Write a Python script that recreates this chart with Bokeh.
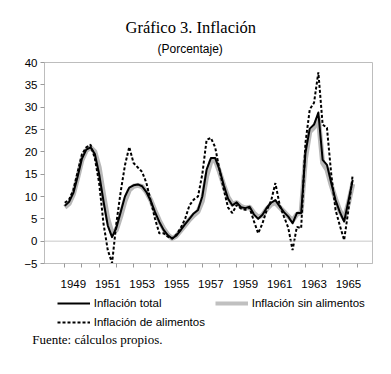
import numpy as np
from bokeh.plotting import figure
from bokeh.layouts import column
from bokeh.models import (Range1d, FixedTicker, Span, Title, Legend, LegendItem,
                          ColumnDataSource)
from bokeh.embed import file_html
from bokeh.resources import INLINE

# ---------------- data (quarterly, 1949Q1 - 1965Q4) ----------------
start_year = 1949
periods_per_year = 4

inflacion_total = [
    7.9, 8.8, 10.8, 14.5, 18.5, 20.5, 21.0, 19.5,      # 1949-1950
    15.0, 9.0, 3.5, 0.9, 3.0, 6.5, 10.0, 12.0,         # 1951-1952
    12.5, 12.7, 12.3, 11.0, 9.0, 6.5, 4.3, 2.5,        # 1953-1954
    1.3, 0.6, 1.3, 2.5, 3.8, 5.0, 6.2, 7.0,            # 1955-1956
    10.0, 16.0, 18.6, 18.6, 16.0, 12.5, 9.5, 8.0,      # 1957-1958
    8.7, 7.6, 7.4, 7.7, 6.0, 5.0, 5.9, 7.5,            # 1959-1960
    8.6, 9.2, 7.8, 6.5, 5.5, 4.0, 6.3, 6.3,            # 1961-1962
    19.8, 25.2, 26.1, 28.8, 18.2, 17.1, 13.0, 9.2,     # 1963-1964
    6.5, 4.4, 9.0, 13.7,                               # 1965
]

inflacion_sin_alimentos = [
    7.6, 8.4, 10.5, 14.2, 18.2, 20.3, 21.0, 20.0,
    16.5, 10.5, 5.0, 1.8, 2.5, 5.5, 9.0, 11.4,
    12.3, 12.5, 12.2, 11.0, 9.2, 6.8, 4.6, 2.8,
    1.4, 0.6, 1.2, 2.4, 3.6, 4.8, 5.8, 6.6,
    9.0, 14.5, 17.8, 18.2, 15.5, 12.5, 9.8, 8.3,
    8.6, 7.8, 7.4, 7.6, 6.3, 5.4, 5.8, 7.2,
    8.2, 8.6, 7.6, 6.6, 5.6, 4.6, 6.0, 6.5,
    18.5, 24.5, 25.5, 27.5, 17.5, 16.0, 12.5, 9.5,
    6.8, 5.0, 8.5, 12.8,
]

inflacion_alimentos = [
    8.6, 9.3, 11.5, 15.5, 19.5, 21.0, 21.6, 18.5,
    13.0, 4.0, -2.0, -4.9, 4.0, 11.0, 17.0, 21.1,
    17.5, 16.5, 15.5, 13.0, 9.0, 5.0, 1.75, 1.75,
    1.0, 0.6, 1.5, 3.0, 5.0, 8.0, 9.3, 10.0,
    15.0, 22.7, 23.1, 21.0, 16.0, 11.5, 7.5, 6.3,
    8.1, 7.3, 7.0, 7.5, 4.5, 1.75, 4.0, 7.0,
    9.0, 13.0, 8.1, 5.5, 3.0, -2.0, 3.2, 2.9,
    22.0, 29.5, 31.0, 37.8, 26.1, 25.4, 15.0, 7.0,
    3.5, 0.25, 7.0, 14.9,
]

year_labels = [1949, 1951, 1953, 1955, 1957, 1959, 1961, 1963, 1965]
year_boundaries = list(range(1949, 1967))
y_ticks = [-5, 0, 5, 10, 15, 20, 25, 30, 35, 40]

title_text = "Gráfico 3. Inflación"
subtitle_text = "(Porcentaje)"
source_text = "Fuente: cálculos propios."
names = ["Inflación total", "Inflación sin alimentos", "Inflación de alimentos"]

t = [start_year + i / periods_per_year for i in range(len(inflacion_total))]
src = ColumnDataSource(dict(t=t, total=inflacion_total,
                            sin=inflacion_sin_alimentos, ali=inflacion_alimentos))

SANS = "Liberation Sans"
SERIF = "Liberation Serif"
styles = {
    "total": dict(line_color="#000000", line_width=2, line_join="round"),
    "sin": dict(line_color="#b8b8b8", line_width=5, line_join="round"),
    "ali": dict(line_color="#000000", line_width=2, line_dash="3 2"),
}

# ---------------- main chart ----------------
p = figure(width=391, height=292, title=None,
           x_range=Range1d(1947.82, 1966.90), y_range=Range1d(-5, 40),
           output_backend="svg", toolbar_location=None,
           min_border_left=44, min_border_right=19,
           min_border_top=62, min_border_bottom=29,
           background_fill_color="white", border_fill_color="white",
           outline_line_color="#bdbdbd", outline_line_width=1)
p.grid.visible = False

xa = p.xaxis[0]
xa.ticker = FixedTicker(ticks=[y + 0.5 for y in year_labels], minor_ticks=year_boundaries)
xa.major_label_overrides = {y + 0.5: str(y) for y in year_labels}
xa.major_tick_out = 0
xa.major_tick_in = 0
xa.minor_tick_out = 4
xa.minor_tick_in = 0
xa.minor_tick_line_color = "#9a9a9a"
xa.axis_line_color = "#bdbdbd"
xa.major_label_standoff = 12
xa.major_label_text_font = SANS
xa.major_label_text_font_size = "11.5px"
xa.major_label_text_color = "#000000"

ya = p.yaxis[0]
ya.ticker = FixedTicker(ticks=y_ticks, minor_ticks=[])
ya.major_tick_out = 4
ya.major_tick_in = 0
ya.major_tick_line_color = "#9a9a9a"
ya.minor_tick_line_color = None
ya.axis_line_color = "#bdbdbd"
ya.major_label_standoff = 3
ya.major_label_text_font = SANS
ya.major_label_text_font_size = "11.5px"
ya.major_label_text_color = "#000000"

p.add_layout(Span(location=0, dimension="width", line_color="#c8c8c8", line_width=1))

p.line("t", "sin", source=src, **styles["sin"])
p.line("t", "total", source=src, **styles["total"])
p.line("t", "ali", source=src, **styles["ali"])

p.add_layout(Title(text=subtitle_text, align="left", offset=113, standoff=10,
                   vertical_align="top", text_font=SANS, text_font_size="12px",
                   text_font_style="normal", text_color="#000000"), "above")
p.add_layout(Title(text=title_text, align="left", offset=81, standoff=0,
                   vertical_align="bottom", text_font=SERIF, text_font_size="16.5px",
                   text_font_style="normal", text_color="#000000"), "above")

# ---------------- legend + source strip ----------------
q = figure(width=391, height=82, title=None,
           x_range=Range1d(0, 1), y_range=Range1d(0, 1),
           x_axis_type=None, y_axis_type=None,
           output_backend="svg", toolbar_location=None,
           min_border_left=44, min_border_right=19, min_border_top=0, min_border_bottom=44,
           background_fill_color="white", border_fill_color="white",
           outline_line_color=None)
q.grid.visible = False

# legend-key renderers only (no visible data of their own)
empty = dict(x=np.array([np.nan]), y=np.array([np.nan]))
k_tot = q.line(**empty, **styles["total"])
k_sin = q.line(**empty, line_color="#c0c0c0", line_width=4)
k_ali = q.line(**empty, **styles["ali"])

common = dict(padding=0, margin=0, spacing=1, glyph_width=33, glyph_height=14,
              label_height=14, label_standoff=4, border_line_color=None,
              background_fill_alpha=0, label_text_font=SANS,
              label_text_font_size="11.5px", label_text_color="#000000")

legA = Legend(items=[LegendItem(label=names[0], renderers=[k_tot]),
                     LegendItem(label=names[1], renderers=[k_sin])],
              orientation="horizontal", location=(12.7, 20.5), label_width=120, **common)
legB = Legend(items=[LegendItem(label=names[2], renderers=[k_ali])],
              orientation="horizontal", location=(12.7, 1.5), label_width=20, **common)
q.add_layout(legA)
q.add_layout(legB)

q.add_layout(Title(text=source_text, align="left", offset=-12.3, standoff=3,
                   vertical_align="top", text_font=SERIF, text_font_size="13px",
                   text_font_style="normal", text_color="#000000"), "below")

open("out.html", "w").write(file_html(column(p, q, spacing=0), INLINE))
